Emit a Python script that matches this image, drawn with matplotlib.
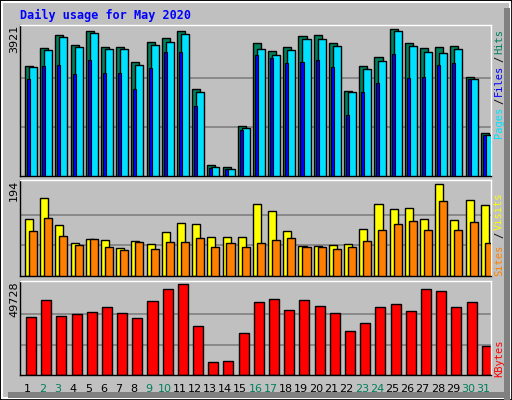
import numpy as np
import matplotlib
matplotlib.use("Agg")
from matplotlib import pyplot as plt
from matplotlib.patches import Rectangle

days = list(range(1, 32))
weekend = [2, 3, 9, 10, 16, 17, 23, 24, 30, 31]

hits = [2934, 3414, 3761, 3494, 3867, 3441, 3441, 3041, 3574, 3681, 3867, 2320, 293, 240, 1334, 3547,
        3334, 3441, 3734, 3761, 3547, 2267, 2934, 3174, 3921, 3547, 3414, 3441, 3467, 2641, 1147]
files = [2907, 3360, 3707, 3441, 3814, 3387, 3387, 2960, 3494, 3574, 3787, 2240, 240, 187, 1280, 3387,
         3227, 3360, 3654, 3654, 3467, 2240, 2854, 3067, 3867, 3467, 3307, 3280, 3387, 2587, 1094]
pages = [2587, 2934, 2960, 2720, 3094, 2747, 2747, 2320, 2880, 3307, 3307, 1867, 213, 187, 1227, 3227,
         3147, 3014, 3040, 3094, 2907, 1627, 2240, 2480, 3254, 2614, 2640, 2960, 3014, 2587, 1094]
visits = [120, 165, 108, 70, 78, 76, 59, 74, 68, 93, 112, 110, 82, 82, 82, 152,
          137, 95, 63, 63, 65, 68, 99, 152, 141, 143, 120, 194, 118, 160, 150]
sites = [95, 122, 84, 65, 78, 61, 55, 72, 57, 72, 72, 80, 61, 70, 61, 70,
         76, 80, 61, 61, 57, 61, 74, 97, 110, 116, 97, 158, 97, 114, 70]
kbytes = [31700, 40950, 32200, 33300, 34400, 37100, 33850, 31100, 40400, 46950, 49728, 26750, 7100, 7650,
          22950, 39850, 41500, 35500, 40950, 37700, 33850, 24000, 28400, 37100, 38800, 34950, 46950,
          45850, 37100, 39850, 15850]

W, H = 512, 400
BG = "#C0C0C0"
GREEN = "#00805C"
MONO = "DejaVu Sans Mono"

fig = plt.figure(figsize=(W / 100, H / 100), dpi=100)
fig.patch.set_facecolor(BG)

# frame
fig.add_artist(Rectangle((0, 0), 1, 1, transform=fig.transFigure, fill=False, ec="black", lw=2))
fig.add_artist(Rectangle((2 / W, 2 / H), 1 - 4 / W, 1 - 4 / H, transform=fig.transFigure,
                         fill=False, ec="white", lw=1.5))
fig.add_artist(Rectangle((1 - 8 / W, 0), 6 / W, 1 - 8 / H, transform=fig.transFigure, fc="#808080", ec="none"))
fig.add_artist(Rectangle((8 / W, 2 / H), 1 - 10 / W, 6 / H, transform=fig.transFigure, fc="#808080", ec="none"))


def panel(y0, y1):
    ax = fig.add_axes([20 / W, 1 - y1 / H, 471 / W, (y1 - y0) / H])
    ax.set_facecolor(BG)
    ax.set_xlim(0, 31)
    ax.set_xticks([])
    ax.set_yticks([])
    for s in ax.spines.values():
        s.set_color("black")
        s.set_linewidth(1)
    ax.spines["top"].set_color("white")
    ax.spines["right"].set_color("white")
    return ax


def grid(ax, top):
    for f in (1 / 3, 2 / 3):
        ax.axhline(top * f, color="#808080", lw=1.2, zorder=0)


x = np.arange(31)

ax1 = panel(25, 176)
ax1.set_ylim(0, 3921 * 151 / 147)
grid(ax1, 3921)
ax1.bar(x + 0.33, hits, width=0.53, align="edge", color=GREEN, ec="black", lw=1, zorder=2)
ax1.bar(x + 0.59, files, width=0.53, align="edge", color="#00E0FF", ec="black", lw=1, zorder=3)
ax1.bar(x + 0.46, pages, width=0.2, align="edge", color="#0000FF", ec="black", lw=0.8, zorder=4)

ax2 = panel(180, 276)
ax2.set_ylim(0, 194 * 96 / 92)
grid(ax2, 194)
ax2.bar(x + 0.33, visits, width=0.53, align="edge", color="#FFFF00", ec="black", lw=1, zorder=2)
ax2.bar(x + 0.59, sites, width=0.53, align="edge", color="#FF8000", ec="black", lw=1, zorder=3)

ax3 = panel(281, 375)
ax3.set_ylim(0, 49728 * 94 / 91)
grid(ax3, 49728)
ax3.bar(x + 0.39, kbytes, width=0.66, align="edge", color="#FF0000", ec="black", lw=1, zorder=2)

for d in days:
    fig.text((20 + (d - 0.5) * 471 / 31) / W, 1 - 389 / H, str(d), ha="center", va="center",
             fontsize=8, family="DejaVu Sans", color=GREEN if d in weekend else "black")

fig.text(20 / W, 1 - 15 / H, "Daily usage for May 2020", color="#0000FF", fontsize=8.5,
         family=MONO, fontweight="bold", va="center")

for txt, ytop in (("3921", 25), ("194", 180), ("49728", 281)):
    fig.text(14 / W, 1 - ytop / H, txt, rotation=90, ha="center", va="top", fontsize=8, family="DejaVu Sans")


def side(parts):
    for txt, color, ycen in parts:
        fig.text(499 / W, 1 - ycen / H, txt, rotation=90, ha="center", va="center",
                 fontsize=7.5, family=MONO, color=color)


side([("Hits", GREEN, 41), ("/", "black", 59), ("Files", "#0000FF", 80), ("/", "black", 101),
      ("Pages", "#00E0FF", 122),
      ("Visits", "#FFFF00", 211), ("/", "black", 235), ("Sites", "#FF8000", 260),
      ("KBytes", "#FF0000", 358)])

fig.savefig("out.png", dpi=100, facecolor=BG)
